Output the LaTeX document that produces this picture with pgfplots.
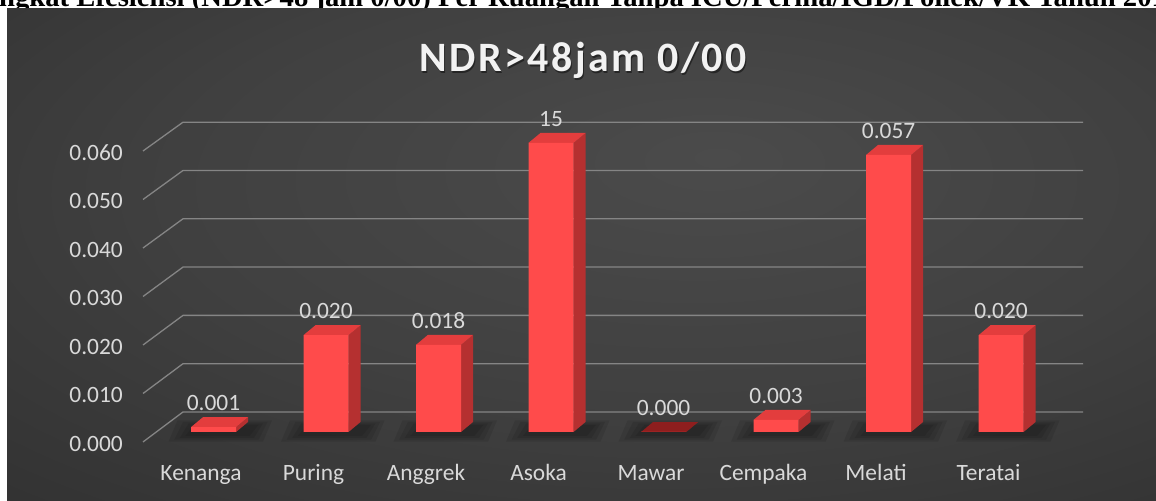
\documentclass[border=0pt]{standalone}
\usepackage{fontspec}
\setmainfont{Carlito}
\newfontfamily\titlefont[LetterSpace=6]{Carlito}
\newfontfamily\headfont{Liberation Serif}
\usepackage{pgfplots}
\usepackage{pgfplotstable}
\pgfplotsset{compat=1.18}
\definecolor{bgA}{HTML}{4B4B4B}
\definecolor{bgB}{HTML}{404040}
\definecolor{bgC}{HTML}{2D2D2D}
\definecolor{bgD}{HTML}{232323}
\definecolor{gridc}{HTML}{858585}
\definecolor{lblc}{HTML}{D9D9D9}
\definecolor{titlec}{HTML}{F2F2F2}
\definecolor{barfront}{HTML}{FF4B4B}
\definecolor{barside}{HTML}{B53030}
\definecolor{bartop}{HTML}{E33D3D}
\definecolor{barzero}{HTML}{8E1E1E}
\pgfdeclareradialshading{bgshade}{\pgfpoint{6bp}{10bp}}{color(0bp)=(bgA); color(22bp)=(bgB); color(48bp)=(bgC); color(70bp)=(bgD)}

\pgfplotstableread{
x v lab
0 0.0010 0.001
1 0.0200 0.020
2 0.0180 0.018
3 0.0597 15
4 0.0000 0.000
5 0.0025 0.003
6 0.0572 0.057
7 0.0200 0.020
}\ndrdata

\newlength\hw
\begin{document}
\settowidth\hw{\headfont\bfseries\fontsize{10}{12}\selectfont ngkat Efesiensi (NDR>48 jam 0/00) Per Ruangan Tanpa ICU/Perina/IGD/Poliek/VK\space}%
\pgfmathsetmacro\hs{10*1038*1.00375/\hw}%
\begin{tikzpicture}[x=1bp,y=1bp]
\useasboundingbox (0,0) rectangle (1156,501);
\clip (0,0) rectangle (1156,501);
\fill[white] (0,0) rectangle (1156,501);
% heading (cut off at the top, as in the source)
\node[anchor=base west, inner sep=0pt, text=black, font={\headfont\bfseries\fontsize{\hs}{\hs}\selectfont}] at (-1,494.5) {\llap{Ti}ngkat Efesiensi (NDR>48 jam 0/00) Per Ruangan Tanpa ICU/Perina/IGD/Poliek/VK Tahun 2019};
% chart background
\shade[shading=bgshade] (7,0) rectangle (1156,492);
% chart title
\node[anchor=base, inner sep=0pt, text=black, opacity=0.45, font={\titlefont\bfseries\fontsize{42}{46}\selectfont}] at (584.5,427.5) {NDR>48jam 0/00};
\node[anchor=base, inner sep=0pt, text=titlec, font={\titlefont\bfseries\fontsize{42}{46}\selectfont}] at (583,429) {NDR>48jam 0/00};
% gridlines (3D walls)
\foreach \k in {0,...,6} {
  \draw[gridc, line width=1.3bp] (143,{59+48.5*\k}) -- (183,{89+48.3*\k}) -- (1083,{89+48.3*\k});
  \node[anchor=east, inner sep=0pt, text=lblc, font={\fontsize{23.5}{26}\selectfont}] at (123,{57+48.5*\k}) {0.0\k0};
}
% category labels
\foreach \n [count=\i from 0] in {Kenanga,Puring,Anggrek,Asoka,Mawar,Cempaka,Melati,Teratai} {
  \node[anchor=base, inner sep=0pt, text=lblc, font={\fontsize{23.5}{26}\selectfont}] at ({201+112.5*\i},20) {\n};
}
\begin{axis}[
  at={(0,0)}, anchor=south west,
  scale only axis, width=1156bp, height=501bp,
  xmin=-1.89778, xmax=8.37778,
  ymin=-0.0142474, ymax=0.0892009,
  axis lines=none, clip=false,
]
% soft floor shadows (layered)
\pgfplotsinvokeforeach{0,...,7}{
  \foreach \s in {0,1,2,3} {
    \pgfmathsetmacro\xa{#1-0.40+0.05*\s}
    \pgfmathsetmacro\xb{#1+0.44-0.04*\s}
    \pgfmathsetmacro\xc{#1+0.52-0.04*\s}
    \pgfmathsetmacro\xd{#1-0.32+0.05*\s}
    \pgfmathsetmacro\ya{-0.0020+0.0004*\s}
    \pgfmathsetmacro\yb{0.0024-0.0003*\s}
    \edef\tmp{\noexpand\addplot[fill=black, fill opacity=0.09, draw=none] coordinates {(\xa,\ya) (\xb,\ya) (\xc,\yb) (\xd,\yb)};}
    \tmp
  }
}
% side and top faces
\pgfplotsinvokeforeach{0,...,7}{
  \pgfplotstablegetelem{#1}{v}\of\ndrdata
  \let\val\pgfplotsretval
  \pgfmathsetmacro\xl{#1-0.2}
  \pgfmathsetmacro\xr{#1+0.2}
  \pgfmathsetmacro\xrr{#1+0.30667}
  \pgfmathsetmacro\xll{#1-0.09333}
  \pgfmathsetmacro\vt{\val+0.0020648}
  \ifdim\val pt<0.0005pt \def\tc{barzero}\else\def\tc{bartop}\fi
  \edef\tmp{\noexpand\addplot[fill=barside, draw=none] coordinates {(\xr,0) (\xrr,0.0020648) (\xrr,\vt) (\xr,\val)};
    \noexpand\addplot[fill=\tc, draw=none] coordinates {(\xl,\val) (\xr,\val) (\xrr,\vt) (\xll,\vt)};}
  \tmp
}
% front faces with value labels
\addplot[ybar, bar width=0.4, bar shift=0pt, fill=barfront, draw=none,
  nodes near coords, point meta=explicit symbolic,
  every node near coord/.append style={anchor=base, inner sep=0pt, yshift=16.5bp, text=lblc, font={\fontsize{23.5}{26}\selectfont}}]
  table[x=x, y=v, meta=lab]{\ndrdata};
\end{axis}
\end{tikzpicture}
\end{document}
